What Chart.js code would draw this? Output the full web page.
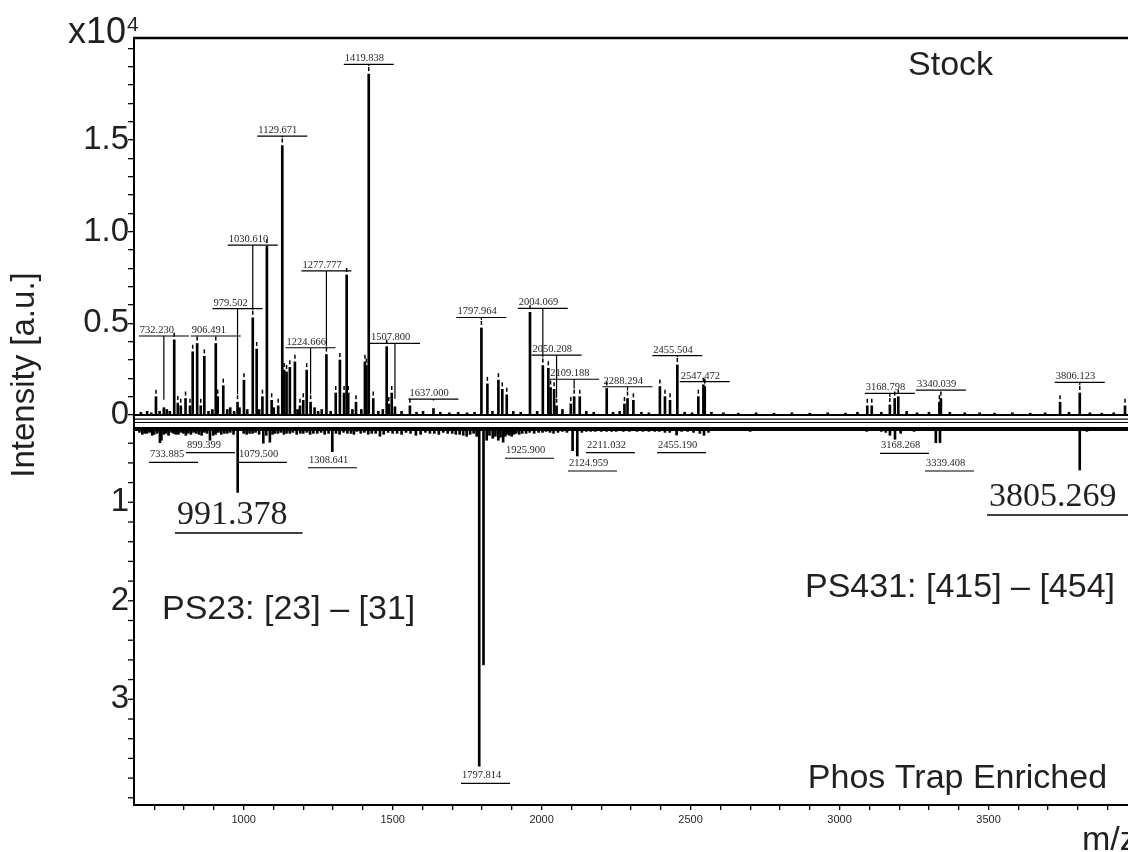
<!DOCTYPE html>
<html>
<head>
<meta charset="utf-8">
<script src="https://cdn.jsdelivr.net/npm/chart.js@4.4.0/dist/chart.umd.min.js"></script>
<style>
  html, body { margin: 0; padding: 0; background: #fff; overflow: hidden; }
</style>
</head>
<body>
<canvas id="myChart" width="1128" height="852"></canvas>
<script>
// Stock spectrum (top panel), intensity x10^4
const topMz = [
  655, 676, 690, 705.7, 718, 732.230, 742, 752, 767, 779,
  789, 805, 820, 829, 844, 856, 868, 882, 895, 906.491,
  913, 931.6, 945, 955, 968, 979.502, 986, 1001, 1012, 1030.610,
  1043.7, 1052, 1063, 1078, 1094, 1101, 1116, 1129.671, 1136, 1144,
  1155, 1172, 1181, 1189, 1200, 1211.5, 1224.666, 1238, 1250, 1262,
  1277.777, 1292, 1309, 1323, 1337, 1345.7, 1351, 1365, 1377, 1395,
  1407, 1412, 1419.838, 1435, 1452, 1467, 1480, 1487, 1497, 1507.800,
  1530, 1558, 1580, 1602, 1637.000, 1660, 1690, 1720, 1750, 1775,
  1797.964, 1818, 1835, 1855, 1868, 1883, 1905, 1930, 1961, 1985,
  2004.069, 2022.5, 2030, 2042, 2050.208, 2070, 2098, 2109.188, 2128, 2150,
  2175, 2218.5, 2240, 2262, 2278, 2288.294, 2308, 2335, 2360, 2397,
  2414, 2431, 2455.504, 2480, 2505, 2526, 2543, 2547.472, 2570, 2610,
  2660, 2720, 2780, 2840, 2900, 2960, 3020, 3060, 3093, 3108,
  3140, 3168.798, 3185, 3197, 3225, 3260, 3300, 3335, 3340.039, 3370,
  3420, 3470, 3520, 3580, 3640, 3690, 3740, 3770, 3806.123, 3840,
  3880, 3920, 3958
];
const topInt = [
  0.015, 0.02, 0.012, 0.10, 0.02, 0.04, 0.03, 0.02, 0.41, 0.065,
  0.05, 0.09, 0.05, 0.345, 0.39, 0.05, 0.32, 0.02, 0.03, 0.39,
  0.10, 0.16, 0.03, 0.04, 0.02, 0.07, 0.04, 0.19, 0.03, 0.53,
  0.36, 0.03, 0.10, 0.92, 0.08, 0.04, 0.05, 1.47, 0.245, 0.235,
  0.26, 0.29, 0.03, 0.05, 0.08, 0.245, 0.07, 0.04, 0.02, 0.03,
  0.33, 0.02, 0.12, 0.30, 0.12, 0.764, 0.12, 0.03, 0.07, 0.03,
  0.29, 0.27, 1.86, 0.09, 0.02, 0.03, 0.373, 0.06, 0.12, 0.045,
  0.02, 0.05, 0.015, 0.02, 0.035, 0.015, 0.012, 0.015, 0.012, 0.015,
  0.475, 0.17, 0.02, 0.19, 0.14, 0.11, 0.02, 0.015, 0.56, 0.02,
  0.27, 0.255, 0.15, 0.14, 0.05, 0.03, 0.06, 0.10, 0.10, 0.02,
  0.015, 0.145, 0.015, 0.02, 0.06, 0.09, 0.08, 0.015, 0.012, 0.155,
  0.10, 0.08, 0.273, 0.015, 0.012, 0.10, 0.165, 0.155, 0.015, 0.012,
  0.01, 0.012, 0.01, 0.012, 0.01, 0.012, 0.01, 0.015, 0.05, 0.05,
  0.015, 0.055, 0.09, 0.10, 0.02, 0.012, 0.015, 0.07, 0.09, 0.015,
  0.012, 0.012, 0.01, 0.012, 0.01, 0.012, 0.07, 0.015, 0.12, 0.012,
  0.01, 0.012, 0.05
];

// Phos Trap Enriched spectrum (bottom panel, drawn downward from botBase)
const botBase = 0.255;
const botMz = [
  650, 668, 685, 700, 719, 724, 740, 758, 772, 790,
  814, 832, 850, 868, 887, 898, 915, 935, 955, 980,
  1000, 1020, 1040, 1066, 1088, 1105, 1125, 1144, 1165, 1190,
  1212, 1234, 1260, 1297.5, 1310, 1335, 1360, 1380, 1405, 1430,
  1457.5, 1485, 1515, 1545, 1578, 1610, 1640, 1670, 1700, 1725,
  1748.5, 1772, 1790.6, 1805, 1815.6, 1825, 1836, 1854.6, 1871, 1885,
  1899.6, 1915, 1935, 1960, 1990, 2015, 2040, 2070, 2104, 2119.7,
  2150, 2180, 2218, 2250, 2274, 2320, 2360, 2395, 2414, 2453,
  2490, 2531, 2545, 2600, 2700, 2800, 2890, 2990, 3091, 3100,
  3140, 3155, 3169, 3186, 3205, 3250, 3323, 3337, 3420, 3500,
  3610, 3730, 3806, 3830, 3900
];
const botInt = [
  0.29, 0.30, 0.29, 0.31, 0.395, 0.37, 0.30, 0.29, 0.31, 0.29,
  0.30, 0.29, 0.31, 0.29, 0.37, 0.32, 0.29, 0.30, 0.29, 0.90,
  0.30, 0.30, 0.29, 0.40, 0.39, 0.30, 0.29, 0.30, 0.29, 0.30,
  0.29, 0.30, 0.29, 0.486, 0.30, 0.29, 0.30, 0.28, 0.29, 0.30,
  0.33, 0.29, 0.30, 0.29, 0.32, 0.29, 0.30, 0.29, 0.30, 0.31,
  0.33, 0.30, 3.68, 2.65, 0.37, 0.32, 0.35, 0.37, 0.39, 0.31,
  0.33, 0.30, 0.30, 0.29, 0.29, 0.28, 0.30, 0.28, 0.476, 0.53,
  0.28, 0.28, 0.28, 0.28, 0.28, 0.28, 0.28, 0.28, 0.29, 0.317,
  0.28, 0.30, 0.32, 0.27, 0.28, 0.27, 0.27, 0.27, 0.28, 0.27,
  0.28, 0.29, 0.32, 0.36, 0.30, 0.28, 0.395, 0.395, 0.27, 0.27,
  0.27, 0.27, 0.672, 0.28, 0.27
];
// small spikes along the bottom baseline
const botNoiseMz = [
  660, 676, 693, 710, 732, 748, 765, 781, 798, 806,
  823, 841, 859, 877, 906, 925, 945, 966, 1010, 1030,
  1052, 1076, 1097, 1115, 1135, 1155, 1178, 1200, 1223, 1247,
  1272, 1285, 1322, 1348, 1370, 1393, 1418, 1443, 1470, 1500,
  1530, 1560, 1594, 1625, 1655, 1685, 1712, 1737, 1760, 1782,
  1845, 1862, 1878, 1892, 1907, 1925, 1948, 1975, 2003, 2028,
  2055, 2085, 2135, 2165, 2200, 2235, 2295, 2340, 2380, 2430,
  2470, 2510, 2560
];
const botNoiseInt = [
  0.31, 0.30, 0.32, 0.30, 0.31, 0.32, 0.30, 0.31, 0.30, 0.32,
  0.31, 0.30, 0.32, 0.30, 0.31, 0.31, 0.30, 0.31, 0.31, 0.30,
  0.31, 0.32, 0.31, 0.30, 0.31, 0.30, 0.31, 0.30, 0.31, 0.30,
  0.31, 0.30, 0.31, 0.30, 0.31, 0.30, 0.31, 0.30, 0.31, 0.30,
  0.31, 0.30, 0.31, 0.30, 0.31, 0.30, 0.31, 0.32, 0.31, 0.33,
  0.33, 0.34, 0.33, 0.32, 0.31, 0.31, 0.30, 0.30, 0.29, 0.29,
  0.29, 0.29, 0.29, 0.28, 0.28, 0.28, 0.28, 0.28, 0.28, 0.29,
  0.28, 0.29, 0.29
];

// lines across the plot just under zero of the top panel
const frameLevels = [0, -0.022, -0.041];

// peak annotations
const topLabelMz = [732.230, 906.491, 979.502, 1030.610, 1129.671, 1224.666, 1277.777, 1419.838, 1507.800, 1637.000,
  1797.964, 2004.069, 2050.208, 2109.188, 2288.294, 2455.504, 2547.472, 3168.798, 3340.039, 3806.123];
const topLabelLevel = [0.431, 0.431, 0.58, 0.927, 1.522, 0.367, 0.786, 1.913, 0.391, 0.087,
  0.532, 0.582, 0.327, 0.195, 0.154, 0.324, 0.182, 0.118, 0.136, 0.178];

const botLabels = ['733.885', '899.399', '1079.500', '1308.641', '1925.900', '2124.959', '2211.032', '2455.190', '3168.268', '3339.408', '1797.814'];
const botLabelAt = [682.5, 806.4, 980.9, 1215.9, 1877.1, 2088.5, 2148.9, 2387.2, 3135.6, 3286.7, 1729.4];
const botLabelLevel = [0.594, 0.496, 0.594, 0.649, 0.553, 0.682, 0.496, 0.496, 0.503, 0.682, 3.853];

const bigLabels = ['991.378', '3805.269'];
const bigLabelAt = [769.5, 3494.9];
const bigLabelLevel = [1.312, 1.129];

// axis ticks
const xTicks = [1000, 1500, 2000, 2500, 3000, 3500];
const yTopTicks = [0, 0.5, 1.0, 1.5];
const yTopLabels = ['0', '0.5', '1.0', '1.5'];
const yBotTicks = [1, 2, 3];

const ink = '#231f20';
const sans = '"Liberation Sans", Arial, sans-serif';
const serif = '"Liberation Serif", "Times New Roman", serif';

const annotations = {
  id: 'annotations',
  afterDraw(chart) {
    const ctx = chart.ctx;
    const a = chart.chartArea;
    const x = chart.scales.x, y = chart.scales.y, y2 = chart.scales.y2;
    ctx.save();
    ctx.strokeStyle = '#000';
    ctx.fillStyle = ink;

    ctx.lineWidth = 2.5;
    ctx.beginPath();
    ctx.moveTo(a.left - 1, a.top);
    ctx.lineTo(a.right, a.top);
    ctx.stroke();

    // peak pick marks above the tips
    ctx.lineWidth = 1.5;
    for (let i = 0; i < topMz.length; i++) {
      if (topInt[i] < 0.05) continue;
      let px = x.getPixelForValue(topMz[i]);
      let py = y.getPixelForValue(topInt[i]);
      ctx.beginPath();
      ctx.moveTo(px, py - 3);
      ctx.lineTo(px, py - 7);
      ctx.stroke();
    }

    // top labels with leader
    ctx.font = '10.5px ' + serif;
    ctx.textAlign = 'left';
    ctx.textBaseline = 'alphabetic';
    ctx.lineWidth = 1.2;
    for (let i = 0; i < topLabelMz.length; i++) {
      let px = x.getPixelForValue(topLabelMz[i]);
      let by = y.getPixelForValue(topLabelLevel[i]);
      let k = topMz.indexOf(topLabelMz[i]);
      let ty = y.getPixelForValue(topInt[k]);
      ctx.beginPath();
      ctx.moveTo(px - 25, by);
      ctx.lineTo(px + 25, by);
      ctx.moveTo(px, by);
      ctx.lineTo(px, ty - 8);
      ctx.stroke();
      ctx.fillText(topLabelMz[i].toFixed(3), px - 24, by - 3);
    }

    // bottom labels
    for (let i = 0; i < botLabels.length; i++) {
      let px = x.getPixelForValue(botLabelAt[i]);
      let by = y2.getPixelForValue(botLabelLevel[i]);
      ctx.beginPath();
      ctx.moveTo(px, by);
      ctx.lineTo(px + 49, by);
      ctx.stroke();
      ctx.fillText(botLabels[i], px + 1, by - 5);
    }

    ctx.font = '34px ' + serif;
    ctx.lineWidth = 1.5;
    for (let i = 0; i < bigLabels.length; i++) {
      let px = x.getPixelForValue(bigLabelAt[i]);
      let by = y2.getPixelForValue(bigLabelLevel[i]);
      let w = ctx.measureText(bigLabels[i]).width;
      ctx.beginPath();
      ctx.moveTo(px, by);
      ctx.lineTo(px + w + 17, by);
      ctx.stroke();
      ctx.fillText(bigLabels[i], px + 2, by - 9);
    }

    // texts in the plot
    ctx.font = '34px ' + sans;
    ctx.fillText('Stock', x.getPixelForValue(3229.7), y.getPixelForValue(1.855));
    ctx.fillText('Phos Trap Enriched', x.getPixelForValue(2893.6), y2.getPixelForValue(3.90));
    ctx.fillText('PS23: [23] \u2013 [31]', x.getPixelForValue(725.8), y2.getPixelForValue(2.185));
    ctx.fillText('PS431: [415] \u2013 [454]', x.getPixelForValue(2884), y2.getPixelForValue(1.96));

    // bottom panel axis ticks
    ctx.lineWidth = 1.3;
    for (let v = 0.4; v <= 4.001; v += 0.2) {
      let py = y2.getPixelForValue(v);
      ctx.beginPath();
      ctx.moveTo(a.left - 6, py);
      ctx.lineTo(a.left, py);
      ctx.stroke();
    }
    ctx.font = '33px ' + sans;
    ctx.textAlign = 'right';
    ctx.textBaseline = 'middle';
    yBotTicks.forEach(v => {
      ctx.fillText(String(v), a.left - 5, y2.getPixelForValue(v));
    });

    // axis titles
    ctx.textAlign = 'left';
    ctx.textBaseline = 'alphabetic';
    ctx.font = '36px ' + sans;
    ctx.fillText('x10', a.left - 66, a.top + 5);
    ctx.font = '21px ' + sans;
    ctx.fillText('4', a.left - 7, a.top - 7);
    ctx.font = '34px ' + sans;
    ctx.fillText('m/z', a.right - 46, a.bottom + 45);
    ctx.save();
    ctx.translate(34, 375);
    ctx.rotate(-Math.PI / 2);
    ctx.textAlign = 'center';
    ctx.font = '33px ' + sans;
    ctx.fillText('Intensity [a.u.]', 0, 0);
    ctx.restore();

    ctx.restore();
  }
};

const convasGraphic = () => {
  let ctx = document.getElementById('myChart').getContext('2d');
  let xMin = 632, xMax = 3968;
  let datasets = [
    {
      type: 'bar',
      data: topMz.map((m, i) => ({x: m, y: topInt[i]})),
      yAxisID: 'y',
      backgroundColor: '#000',
      barThickness: 2,
      grouped: false
    },
    {
      type: 'bar',
      data: botMz.map((m, i) => ({x: m, y: [botBase, botInt[i]]})),
      yAxisID: 'y2',
      backgroundColor: '#000',
      barThickness: 2,
      grouped: false
    },
    {
      type: 'bar',
      data: botNoiseMz.map((m, i) => ({x: m, y: [botBase, botNoiseInt[i]]})),
      yAxisID: 'y2',
      backgroundColor: '#000',
      barThickness: 2,
      grouped: false
    }
  ];
  frameLevels.forEach((lv, i) => {
    datasets.push({
      type: 'line',
      data: [{x: xMin, y: lv}, {x: xMax, y: lv}],
      yAxisID: 'y',
      borderColor: '#000',
      borderWidth: i === 0 ? 1.8 : 1.2,
      pointRadius: 0
    });
  });
  datasets.push({
    type: 'line',
    data: [{x: xMin, y: botBase}, {x: xMax, y: botBase}],
    yAxisID: 'y2',
    borderColor: '#000',
    borderWidth: 4,
    pointRadius: 0
  });

  let myChart = new Chart(ctx, {
    type: 'bar',
    data: {datasets: datasets},
    options: {
      responsive: false,
      animation: false,
      events: [],
      layout: {padding: {top: 38, left: 0, right: 0, bottom: 0}},
      plugins: {legend: {display: false}, tooltip: {enabled: false}},
      scales: {
        x: {
          type: 'linear',
          min: xMin,
          max: xMax,
          offset: false,
          afterFit: s => { s.height = 47; },
          afterBuildTicks: s => {
            let t = [];
            for (let v = 700; v <= 3900; v += 100) t.push({value: v});
            s.ticks = t;
          },
          ticks: {
            autoSkip: false,
            maxRotation: 0,
            padding: 3,
            color: ink,
            font: {family: sans, size: 11},
            callback: v => xTicks.includes(v) ? String(v) : ''
          },
          grid: {offset: false, drawOnChartArea: false, tickLength: 5, color: '#000', lineWidth: 1.3},
          border: {display: true, color: '#000', width: 2}
        },
        y: {
          type: 'linear',
          min: -2.1277,
          max: 2.0568,
          afterFit: s => { s.width = 134; },
          afterBuildTicks: s => {
            let t = [];
            for (let i = 0; i <= 20; i++) t.push({value: i / 10});
            s.ticks = t;
          },
          ticks: {
            autoSkip: false,
            padding: -1,
            color: ink,
            font: {family: sans, size: 33},
            callback: v => {
              let k = yTopTicks.indexOf(Math.round(v * 10) / 10);
              return k >= 0 ? yTopLabels[k] : '';
            }
          },
          grid: {drawOnChartArea: false, tickLength: 6, color: '#000', lineWidth: 1.3},
          border: {display: true, color: '#000', width: 2}
        },
        y2: {
          type: 'linear',
          display: false,
          reverse: true,
          min: -3.7137,
          max: 4.0731
        }
      }
    },
    plugins: [annotations]
  });
};

convasGraphic();
</script>
</body>
</html>
